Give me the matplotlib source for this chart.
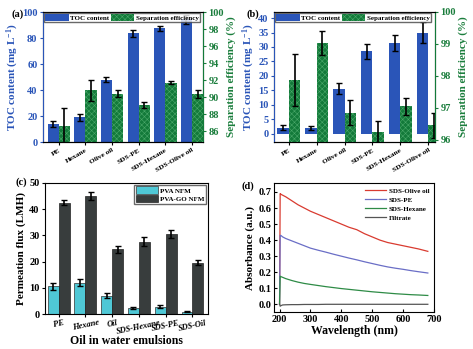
import matplotlib
matplotlib.use("Agg")
import matplotlib.pyplot as plt
from matplotlib import font_manager as fm
import numpy as np

plt.rcParams['font.family'] = ['Liberation Serif', 'DejaVu Serif']
plt.rcParams['font.weight'] = 'bold'
plt.rcParams['axes.labelweight'] = 'bold'
plt.rcParams['mathtext.fontset'] = 'custom'
plt.rcParams['mathtext.rm'] = 'Liberation Serif:bold'
plt.rcParams['mathtext.bf'] = 'Liberation Serif:bold'
plt.rcParams['mathtext.default'] = 'bf'
plt.rcParams['hatch.linewidth'] = 0.4

# ---------------- data ----------------
cats_ab = ["PE", "Hexane", "Olive oil", "SDS-PE", "SDS-Hexane", "SDS-Olive oil"]
toc_a = [14, 19, 48, 83.5, 87.5, 94.5]
toc_a_err = [2.5, 2.5, 2, 2.5, 2, 3.5]
se_a = [86.6, 90.8, 90.4, 89.1, 91.7, 90.4]
se_a_err = [2.1, 1.2, 0.4, 0.35, 0.2, 0.5]

toc_b = [2.0, 2.0, 15.6, 28.5, 31.5, 35.0]
toc_b_err = [0.9, 0.8, 2.0, 2.5, 2.8, 3.8]
se_b = [97.87, 99.02, 96.85, 96.24, 97.05, 96.45]
se_b_err = [0.8, 0.37, 0.4, 0.35, 0.27, 0.4]

cats_c = ["PE", "Hexane", "Oil", "SDS-Hexane", "SDS-PE", "SDS-Oil"]
pva = [10.5, 12.0, 7.0, 2.2, 2.8, 0.8]
pva_err = [1.2, 1.2, 1.0, 0.3, 0.7, 0.2]
pvago = [42.5, 45.0, 24.7, 27.5, 30.4, 19.6]
pvago_err = [1.0, 1.5, 1.3, 1.7, 1.5, 1.0]

wl = [200, 202, 205, 210, 220, 240, 260, 280, 300, 325, 350, 375, 400,
      425, 450, 475, 500, 525, 550, 575, 600, 625, 650, 680]
abs_olive = [0.0, 0.69, 0.685, 0.68, 0.67, 0.645, 0.62, 0.60, 0.58, 0.56, 0.54, 0.52, 0.50,
             0.48, 0.465, 0.44, 0.42, 0.40, 0.385, 0.375, 0.365, 0.355, 0.345, 0.33]
abs_pe = [0.0, 0.43, 0.428, 0.42, 0.41, 0.395, 0.38, 0.365, 0.35, 0.337, 0.325, 0.312, 0.30,
          0.288, 0.277, 0.265, 0.254, 0.243, 0.233, 0.225, 0.218, 0.21, 0.203, 0.195]
abs_hex = [0.0, 0.175, 0.172, 0.168, 0.16, 0.148, 0.138, 0.13, 0.124, 0.117, 0.11, 0.104, 0.098,
           0.093, 0.088, 0.083, 0.078, 0.074, 0.07, 0.066, 0.063, 0.06, 0.058, 0.055]
abs_filt = [0.0, -0.012, -0.008, -0.004, -0.003, -0.002, -0.002, -0.001, -0.001, -0.001, 0.0, 0.0, 0.0,
            0.0, 0.0, 0.0, 0.0, 0.0, 0.0, 0.0, 0.0, 0.0, 0.0, 0.0]

BLUE = '#2a55b8'
GREEN = '#137a3a'
GREEN_T = '#1a7d3c'
BLUE_T = '#2a55b8'
CYAN = '#4fc8d6'
DARK = '#383d3d'
B = 'bold'

W, H = 473, 349
fig = plt.figure(figsize=(W / 100, H / 100), dpi=100)

def px_axes(l, r, t, b):
    return fig.add_axes([l / W, 1 - b / H, (r - l) / W, (b - t) / H])

def bold_ticks(ax):
    for lab in ax.get_xticklabels() + ax.get_yticklabels():
        lab.set_fontweight(B)

ekw = dict(ecolor='black', elinewidth=1.2, capsize=2, capthick=1.0)

def dual_panel(ax, toc, toc_err, se, se_err, ylim_l, ylim_r, lticks, rticks, xlim, width):
    x = np.arange(len(cats_ab))
    ax.bar(x - width / 2, toc, width, color=BLUE, yerr=toc_err, error_kw=ekw, label='TOC content', zorder=2)
    ax2 = ax.twinx()
    ax2.bar(x + width / 2, se, width, color=GREEN, edgecolor='#4aa86a', linewidth=0, hatch='xxxxxx',
            yerr=se_err, error_kw=ekw, label='Separation efficiency', zorder=2)
    ax.set_xlim(*xlim)
    ax.set_ylim(*ylim_l)
    ax2.set_ylim(*ylim_r)
    ax.set_yticks(lticks)
    ax2.set_yticks(rticks)
    ax.set_xticks(x)
    ax.set_xticklabels(cats_ab, rotation=30, ha='right', fontsize=5.3, rotation_mode='anchor', fontweight=B)
    ax.tick_params(axis='x', length=2, pad=2)
    ax.tick_params(axis='y', colors=BLUE_T, labelsize=7.5, length=2.5, width=0.8, pad=1.5)
    ax2.tick_params(axis='y', colors=GREEN_T, labelsize=7.5, length=2.5, width=0.8, pad=1.5)
    ax.set_ylabel('TOC content (mg L$^{-1}$)', color=BLUE_T, fontsize=8, labelpad=1, fontweight=B)
    ax2.set_ylabel('Separation efficiency (%)', color=GREEN_T, fontsize=8, labelpad=2, fontweight=B)
    ax2.spines['left'].set_color(BLUE)
    ax2.spines['right'].set_color(GREEN)
    for s in ax2.spines.values():
        s.set_linewidth(0.8)
    bold_ticks(ax)
    bold_ticks(ax2)
    h1, l1 = ax.get_legend_handles_labels()
    h2, l2 = ax2.get_legend_handles_labels()
    ax2.legend(h1 + h2, l1 + l2, loc='upper left', ncol=2, frameon=True, fancybox=False,
               prop=fm.FontProperties(family='Liberation Serif', weight='bold', size=5),
               edgecolor='#444444', handlelength=3.4, handleheight=1.2, handletextpad=0.2, columnspacing=0.2,
               borderpad=0.15, borderaxespad=0.15)
    return ax2

# (a)
axa = px_axes(43, 203, 12, 142)
dual_panel(axa, toc_a, toc_a_err, se_a, se_a_err, (0, 100), (84.75, 100),
           np.arange(0, 101, 20), np.arange(86, 101, 2), (-0.59, 5.41), 0.42)

# (b)
axb = px_axes(274, 435, 12, 142)
dual_panel(axb, toc_b, toc_b_err, se_b, se_b_err, (-2.9, 42.1), (95.93, 100),
           np.arange(0, 41, 5), np.arange(96, 101, 1), (-0.53, 5.24), 0.41)

# (c)
axc = px_axes(45, 208, 183, 314)
xc = np.arange(len(cats_c))
wc = 0.41
axc.bar(xc - wc / 2, pva, wc, color=CYAN, edgecolor='#333333', linewidth=0.5, yerr=pva_err,
        error_kw=ekw, label='PVA NFM')
axc.bar(xc + wc / 2, pvago, wc, color=DARK, edgecolor='#222222', linewidth=0.5, yerr=pvago_err,
        error_kw=ekw, label='PVA-GO NFM')
axc.set_xlim(-0.51, 5.58)
axc.set_ylim(0, 50)
axc.set_yticks(np.arange(0, 51, 10))
axc.set_xticks(xc)
axc.set_xticklabels(cats_c, rotation=12, ha='center', fontsize=6, style='italic', fontweight=B)
axc.tick_params(axis='both', labelsize=7.5, length=2.5, width=0.8, pad=1.5)
axc.tick_params(axis='x', labelsize=6, pad=1)
bold_ticks(axc)
axc.set_ylabel('Permeation flux (LMH)', fontsize=8, labelpad=2, fontweight=B)
axc.set_xlabel('Oil in water emulsions', fontsize=8.5, labelpad=-1, fontweight=B)
axc.legend(loc='upper right', frameon=True, fancybox=False, edgecolor='#444444',
           prop=fm.FontProperties(family='Liberation Serif', weight='bold', size=5),
           handlelength=3.2, handleheight=1.3, handletextpad=0.3, borderpad=0.2, borderaxespad=0.3,
           labelspacing=0.1)

# (d)
axd = px_axes(274, 434, 183, 312)
axd.plot(wl, abs_olive, color='#d93b30', lw=0.9, label='SDS-Olive oil')
axd.plot(wl, abs_pe, color='#6a6ec6', lw=0.9, label='SDS-PE')
axd.plot(wl, abs_hex, color='#2e8b46', lw=0.9, label='SDS-Hexane')
axd.plot(wl, abs_filt, color='#555555', lw=0.9, label='Filtrate')
axd.set_xlim(182, 700)
axd.set_ylim(-0.048, 0.756)
axd.set_xticks(np.arange(200, 701, 100))
axd.set_yticks(np.arange(0, 0.71, 0.1))
axd.set_yticklabels([f'{v:.1f}' for v in np.arange(0, 0.71, 0.1)])
axd.tick_params(axis='both', direction='in', labelsize=7.5, length=2.5, width=0.8, pad=2)
bold_ticks(axd)
axd.set_ylabel('Absorbance (a.u.)', fontsize=8, labelpad=2, fontweight=B)
axd.set_xlabel('Wavelength (nm)', fontsize=8.5, labelpad=1, fontweight=B)
axd.legend(loc='upper right', frameon=False,
           prop=fm.FontProperties(family='Liberation Serif', weight='bold', size=5),
           handlelength=3.0, handletextpad=0.4, labelspacing=0.45, borderaxespad=0.3)

for ax in (axa, axb, axc, axd):
    for s in ax.spines.values():
        s.set_linewidth(0.8)

fig.text(11 / W, 1 - 14 / H, '(a)', fontsize=7.5, va='center', ha='left', fontweight=B)
fig.text(246 / W, 1 - 14 / H, '(b)', fontsize=7.5, va='center', ha='left', fontweight=B)
fig.text(15 / W, 1 - 182 / H, '(c)', fontsize=7.5, va='center', ha='left', fontweight=B)
fig.text(241 / W, 1 - 186 / H, '(d)', fontsize=7.5, va='center', ha='left', fontweight=B)

fig.savefig('out.png', dpi=100)
